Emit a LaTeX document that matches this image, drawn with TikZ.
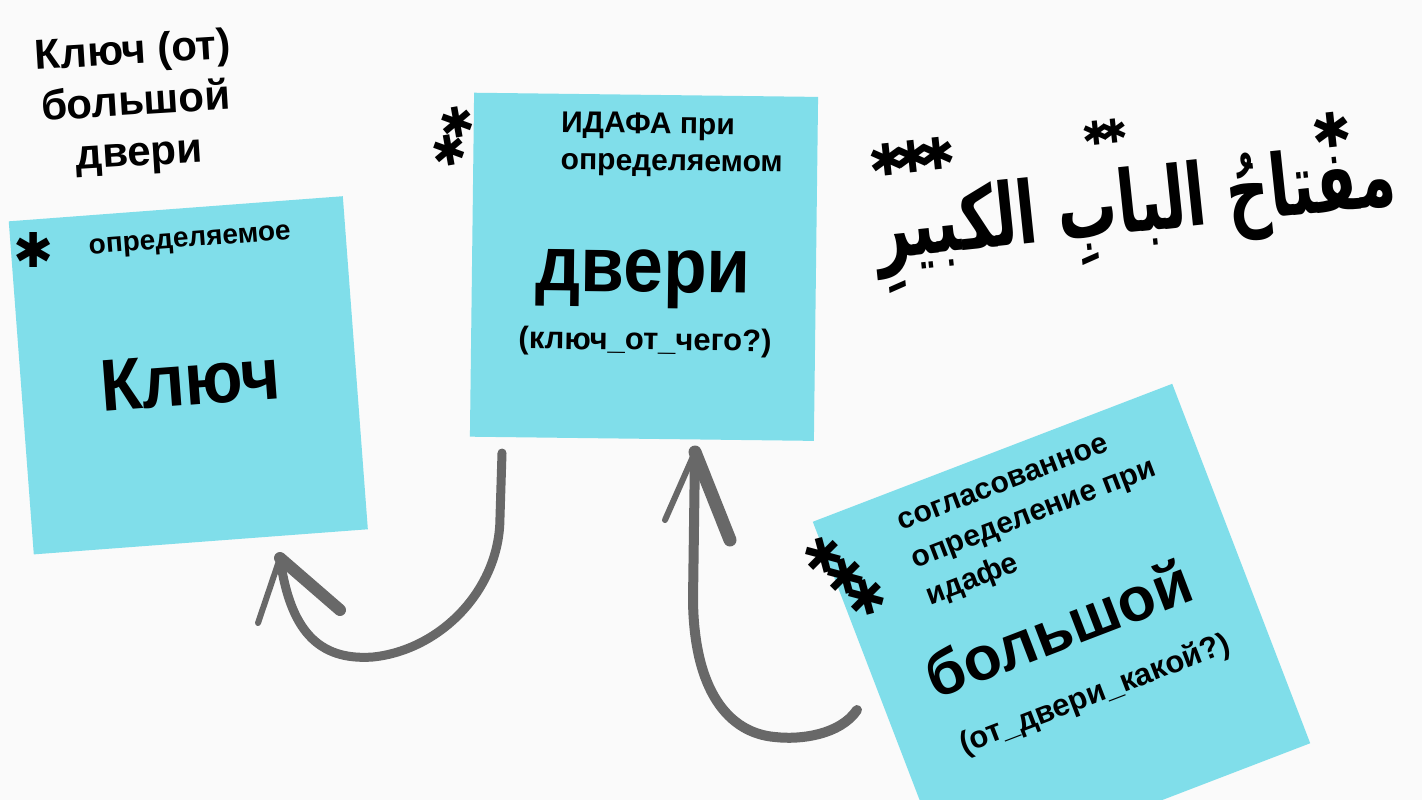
\documentclass[tikz,border=0pt]{standalone}
\usepackage{fontspec}
\setmainfont{Liberation Sans}
\newfontfamily\arabicfont[Script=Arabic]{DejaVu Sans}
\newfontfamily\astfont{DejaVu Sans}
\TeXXeTstate=1
\definecolor{notecyan}{HTML}{80DEEA}
\definecolor{paper}{HTML}{FAFAFA}
\definecolor{ink}{HTML}{686868}
\newcommand\fsz[2]{\fontsize{#1}{#2}\selectfont}

\begin{document}
\begin{tikzpicture}[x=1pt, y=-1pt, line cap=round, line join=round,
  note/.style={fill=notecyan, inner sep=0pt},
  txt/.style={inner sep=0pt},
  astx/.style={inner sep=0pt, font=\astfont\fsz{#1}{#1}},
  brush/.style={draw=ink, line width=#1}]

  %% ════ 背景 ════
  \fill[paper] (0,0) rectangle (1422,800);

  %% ════ 便签（三张）════
  \node[note, minimum width=335pt, minimum height=334pt, rotate=4.3] (kluchNote) at (188.3,375.3) {};
  \node[note, minimum width=344pt, minimum height=344pt, rotate=-0.7] (dveriNote) at (644.0,266.8) {};
  \node[note, minimum size=385pt, rotate=21] (bolshoiNote) at (1061.5,632.5) {};

  %% ════ 左上标题 ════
  \node[txt, align=center, rotate=3.5, font=\bfseries\fsz{42}{51}] (title) at (136.0,104.0) {Ключ (от)\\большой\\двери};

  %% ════ 便签文字 ════
  \node[txt, rotate=4.3, font=\bfseries\fsz{28}{34}] (kluchTag) at (190.0,242.0) {определяемое};
  \node[txt, rotate=4.3, yscale=1.08, font=\bfseries\fsz{68}{80}] (kluchWord) at (190.0,380.0) {Ключ};

  \node[txt, align=left, rotate=-0.7, font=\bfseries\fsz{30}{37}] (dveriTag) at (672.0,145.0) {ИДАФА при\\определяемом};
  \node[txt, rotate=-0.7, yscale=1.1, font=\bfseries\fsz{71}{80}] (dveriWord) at (643.0,279.0) {двери};
  \node[txt, rotate=-0.7, font=\bfseries\fsz{31}{36}] (dveriQ) at (645.0,342.0) {(ключ\_от\_чего?)};

  \node[txt, align=left, rotate=21, font=\bfseries\fsz{30}{40}] (bolshoiTag) at (1035.0,517.0) {согласованное\\определение при\\идафе};
  \node[txt, rotate=21, font=\bfseries\fsz{62}{70}] (bolshoiWord) at (1058.0,628.0) {большой};
  \node[txt, rotate=21, font=\bfseries\fsz{31}{36}] (bolshoiQ) at (1095.0,695.0) {(от\_двери\_какой?)};

  %% ════ 阿拉伯语短语 ════
  \node[txt, anchor=base, rotate=6, xscale=0.93, yscale=1.35, font=\arabicfont\bfseries\fsz{64}{70}] (arabic) at (1138.0,232.0) {\beginR مفتاحُ البابِ الكبيرِ\endR};

  %% ════ 星号 ════
  \node[astx=48] (astK) at (34.0,250.0) {✱};
  \node[astx=42, rotate=10] (astD1) at (457.0,122.0) {✱};
  \node[astx=42, rotate=10] (astD2) at (449.0,150.0) {✱};
  \node[astx=48, rotate=15] (astB1) at (823.0,555.0) {✱};
  \node[astx=48, rotate=15] (astB2) at (845.0,576.0) {✱};
  \node[astx=48, rotate=15] (astB3) at (866.0,597.0) {✱};
  \node[astx=48, rotate=6] (astA1) at (1332.0,130.0) {✱};
  \node[astx=33, rotate=6] (astA2a) at (1096.0,133.0) {✱};
  \node[astx=33, rotate=6] (astA2b) at (1114.0,131.0) {✱};
  \node[astx=44, rotate=6] (astA3a) at (887.0,160.0) {✱};
  \node[astx=44, rotate=6] (astA3b) at (912.0,157.0) {✱};
  \node[astx=44, rotate=6] (astA3c) at (937.0,154.0) {✱};

  %% ════ 手绘箭头 ════
  \coordinate (dveriOut) at (502.0,453.0);
  \coordinate (kluchIn) at (280.0,558.0);
  \coordinate (bolshoiOut) at (857.0,710.0);
  \coordinate (dveriIn) at (695.0,452.0);

  \draw[brush=9pt] (dveriOut) -- (500.0,517.0) .. controls (500.0,590.0) and (440.0,650.0) .. (373.0,657.0) .. controls (318.0,661.0) and (290.0,630.0) .. (kluchIn);
  \draw[brush=6pt] (kluchIn) -- ++(-22.0,65.0);
  \draw[brush=12pt] (kluchIn) -- ++(60.0,52.0);

  \draw[brush=10pt] (bolshoiOut) .. controls (840.0,735.0) and (800.0,740.0) .. (775.0,737.0) .. controls (728.0,733.0) and (694.0,690.0) .. (693.0,600.0) -- (dveriIn);
  \draw[brush=6pt] (dveriIn) -- ++(-30.0,68.0);
  \draw[brush=13pt] (dveriIn) -- ++(35.0,88.0);

  % 钉死画布
  \pgfresetboundingbox
  \path[use as bounding box] (0,0) rectangle (1422,800);
\end{tikzpicture}
\end{document}
